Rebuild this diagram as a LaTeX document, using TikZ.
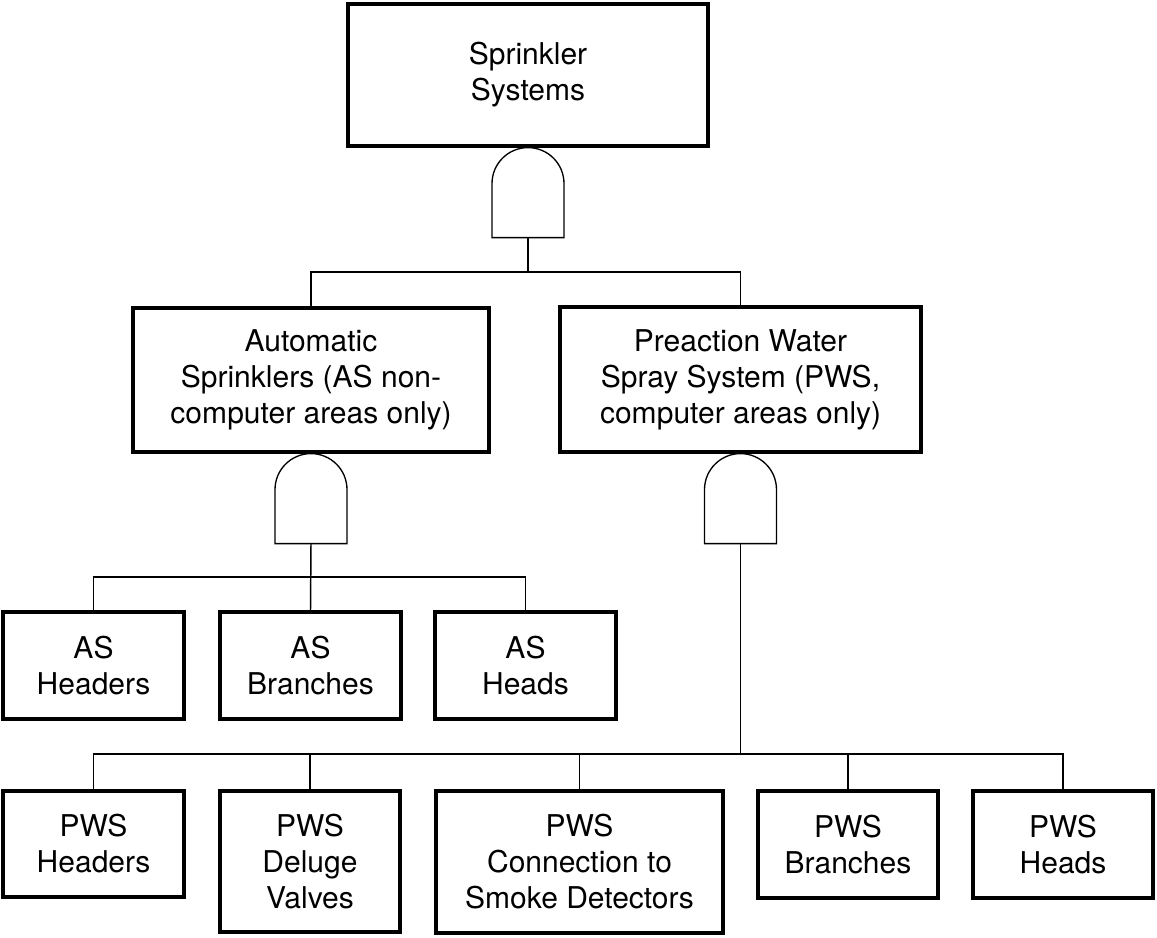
\documentclass[tikz,border=0pt]{standalone}
\usepackage{fontspec}
\setmainfont{TeX Gyre Heros}
\usepackage{tikz}

\tikzset{
  andgate/.pic={
    \draw[gateln] (-36,90) -- (-36,36) arc (180:360:36) -- (36,90) -- cycle;
    \coordinate (-out) at (0,90);
  }
}

\begin{document}
\begin{tikzpicture}[x=0.75pt, y=-0.75pt,
    evbox/.style={draw, line width=2.4pt, inner sep=0pt, align=center,
      font=\fontsize{22.5}{27}\selectfont},
    gateln/.style={line width=1pt},
    wire/.style={line width=1.1pt}]
  \useasboundingbox (0,0) rectangle (1157,938);

  % top event and the two systems
  \node[evbox, minimum width=270pt, minimum height=106.5pt] (sys) at (528,75)
        {Sprinkler\\Systems};
  \node[evbox, minimum width=267pt, minimum height=108pt] (asys) at (311,380)
        {Automatic\\Sprinklers (AS non-\\computer areas only)};
  \node[evbox, minimum width=270.75pt, minimum height=108.75pt] (pws) at (740.5,379.5)
        {Preaction Water\\Spray System (PWS,\\computer areas only)};

  % AS parts
  \node[evbox, minimum width=135.75pt, minimum height=80.25pt] (ash) at (93.5,665.5)
        {AS\\Headers};
  \node[evbox, minimum width=135.75pt, minimum height=80.25pt] (asbr) at (310.5,665.5)
        {AS\\Branches};
  \node[evbox, minimum width=135.75pt, minimum height=80.25pt] (ashd) at (525.5,665.5)
        {AS\\Heads};

  % PWS parts
  \node[evbox, minimum width=135.75pt, minimum height=79.5pt] (pwh) at (93.5,844)
        {PWS\\Headers};
  \node[evbox, minimum width=135pt, minimum height=105.75pt] (pwd) at (310,861.5)
        {PWS\\Deluge\\Valves};
  \node[evbox, minimum width=215.25pt, minimum height=106.5pt] (pwc) at (579.5,862)
        {PWS\\Connection to\\Smoke Detectors};
  \node[evbox, minimum width=135pt, minimum height=80.25pt] (pwb) at (848,844.5)
        {PWS\\Branches};
  \node[evbox, minimum width=135pt, minimum height=80.25pt] (pwhd) at (1063,844.5)
        {PWS\\Heads};

  % gates
  \pic (g0) at (sys.south) {andgate};
  \pic (g1) at (asys.south) {andgate};
  \pic (g2) at (pws.south) {andgate};

  \coordinate (b0) at (528,272);
  \coordinate (b1) at (311,577);
  \coordinate (b2) at (740.5,754);

  \draw[wire] (g0-out) -- (b0);
  \draw[wire] (asys.north) |- (b0) -| (pws.north);

  \draw[wire] (g1-out) -- (asbr.north);
  \draw[wire] (ash.north) |- (b1) -| (ashd.north);

  \draw[wire] (g2-out) -- (b2);
  \draw[wire] (pwh.north) |- (b2) -| (pwhd.north);
  \foreach \n in {pwd, pwc, pwb}
    \draw[wire] (\n.north) -- (\n.north |- b2);
\end{tikzpicture}
\end{document}
